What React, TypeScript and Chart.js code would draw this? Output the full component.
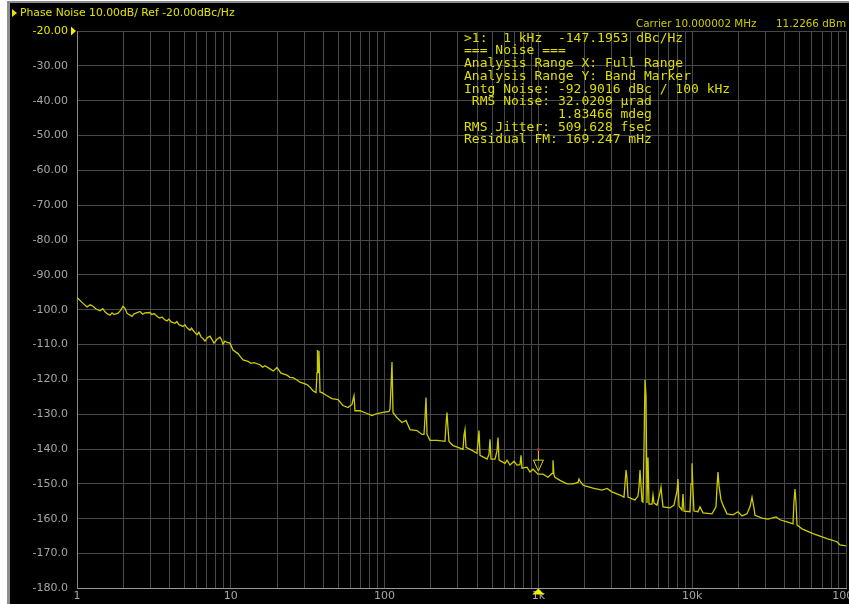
import React, { useEffect, useRef } from "react";
import { Chart, registerables } from "chart.js";

Chart.register(...registerables);

// ---- Data ----
const freqHz: number[] = [
  1, 1.078, 1.162, 1.22, 1.271, 1.33, 1.411, 1.47, 1.521, 1.58, 1.639, 1.69, 1.74, 1.847, 1.92, 1.991,
  2.05, 2.114, 2.2, 2.279, 2.35, 2.419, 2.568, 2.67, 2.768, 2.983, 3.07, 3.168, 3.313, 3.44, 3.57, 3.7,
  3.848, 3.96, 4.086, 4.337, 4.46, 4.605, 4.89, 5.03, 5.191, 5.43, 5.55, 5.679, 5.85, 6.028, 6.21, 6.402,
  6.6, 6.797, 7.05, 7.323, 7.55, 7.777, 8.134, 8.507, 8.7, 8.898, 9.16, 9.448, 9.881, 10.33, 11.14, 11.6,
  12.0, 12.94, 13.5, 14.15, 15.48, 16.1, 16.69, 17.98, 18.9, 19.97, 21.21, 23.2, 24.2, 25.38, 26.8, 28.18,
  31.29, 33.0, 34.23, 35.81, 36.35, 36.6, 36.9, 37.45, 38.02, 39.17, 42.22, 45.5, 49.77, 53.63, 57.81, 61.38,
  62.3, 63.24, 64.19, 69.18, 76.86, 82.82, 89.25, 97.63, 106.8, 108.4, 110.0, 111.7, 113.4, 120.4, 129.8, 137.8,
  146.3, 162.4, 175.1, 180.4, 183.1, 185.9, 188.7, 197.3, 219.1, 247.0, 250.7, 254.5, 258.3, 262.2, 278.4, 300.1,
  323.4, 328.3, 333.3, 338.3, 370.2, 398.9, 404.9, 411.1, 417.3, 463.4, 477.4, 484.6, 491.9, 522.3, 538.2, 546.3,
  554.6, 606.6, 625.1, 653.8, 694.0, 725.9, 759.3, 770.8, 782.4, 843.3, 881.9, 922.3, 994.0, 1071, 1155, 1226,
  1244, 1263, 1282, 1382, 1535, 1679, 1809, 1837, 1865, 1950, 2009, 2265, 2591, 2793, 3010, 3394,
  3603, 3713, 3768, 3825, 4061, 4247, 4442, 4509, 4577, 4646, 4716, 4787, 4860, 4933, 5008, 5083,
  5160, 5238, 5479, 5561, 5645, 5905, 6175, 6269, 6363, 6459, 7173, 7614, 7964, 8084, 8207, 8585,
  8715, 8846, 9676, 9822, 9970, 10120, 10273, 10907, 11239, 11756, 13451, 14279, 14495, 14714, 14937, 15391,
  15859, 16837, 18420, 19854, 21076, 22721, 23764, 24486, 25231, 25612, 28434, 31102, 35068, 37228, 41344, 45230,
  45912, 46605, 47308, 48023, 51761, 61025, 75250, 87420, 91410, 100000,
];

const phaseNoiseDbc: number[] = [
  -96.5, -97.9, -99.2, -98.6, -99.0, -99.8, -100.3, -99.7, -100.6, -101.2, -101.6, -100.9, -101.4, -101.0, -100.2, -99.0,
  -99.6, -101.0, -101.5, -101.9, -101.2, -101.0, -100.5, -101.3, -100.9, -100.8, -101.4, -101.1, -101.9, -102.4, -102.1, -102.8,
  -103.2, -102.7, -103.5, -103.9, -103.4, -104.3, -104.8, -104.3, -105.2, -105.9, -105.3, -105.9, -106.6, -107.2, -106.5, -107.8,
  -108.3, -109.0, -108.0, -107.6, -108.6, -109.6, -108.5, -107.9, -108.6, -109.9, -109.0, -109.4, -109.6, -111.6, -112.6, -113.6,
  -114.4, -114.8, -115.4, -115.2, -115.8, -116.5, -116.1, -117.0, -117.6, -116.6, -118.2, -118.8, -119.4, -119.5, -120.1, -120.8,
  -121.5, -122.4, -123.3, -123.8, -118.1, -111.6, -118.0, -111.8, -123.6, -123.8, -124.7, -125.5, -125.8, -127.5, -128.1, -127.2,
  -125.8, -124.7, -129.0, -129.0, -129.8, -130.4, -129.8, -129.5, -129.2, -128.5, -122.4, -115.0, -129.5, -131.0, -132.4, -131.8,
  -134.4, -134.7, -135.8, -135.8, -131.0, -125.2, -135.8, -137.5, -137.5, -137.8, -133.0, -129.5, -134.0, -137.8, -139.0, -139.5,
  -140.1, -136.0, -134.4, -139.5, -140.4, -141.2, -138.0, -134.7, -141.8, -142.9, -141.5, -137.2, -142.9, -142.9, -140.5, -136.7,
  -143.2, -144.1, -143.2, -144.6, -143.5, -144.6, -144.5, -141.8, -145.5, -145.2, -146.6, -145.8, -147.2, -147.2, -148.1, -147.0,
  -143.2, -147.5, -148.1, -149.0, -150.0, -150.0, -149.6, -148.6, -149.2, -150.3, -150.6, -151.2, -151.8, -151.3, -152.3, -153.2,
  -153.8, -146.0, -148.5, -153.8, -154.3, -154.6, -153.5, -150.9, -146.0, -150.5, -155.0, -155.2, -140.0, -120.1, -124.7, -155.5,
  -142.4, -155.8, -155.8, -153.2, -155.5, -156.1, -152.5, -150.9, -154.0, -156.6, -156.9, -156.1, -152.0, -148.6, -156.4, -157.5,
  -152.9, -157.8, -158.0, -150.0, -144.1, -152.0, -157.8, -158.0, -156.6, -158.3, -158.6, -156.6, -151.0, -146.6, -150.5, -154.6,
  -156.1, -158.6, -158.9, -158.0, -159.2, -158.6, -156.6, -153.8, -157.0, -159.0, -159.8, -160.1, -159.5, -160.3, -160.9, -161.5,
  -155.0, -151.5, -155.5, -161.8, -162.9, -164.3, -165.7, -166.6, -167.5, -167.8,
];

const xMin = 1;
const xMax = 100000;
const yMin = -180;
const yMax = -20;
const yStep = 10;
const refLevel = -20;
const decadeLabels: Record<number, string> = {
  1: "1",
  10: "10",
  100: "100",
  1000: "1k",
  10000: "10k",
  100000: "100k",
};
const mantissas = [1, 2, 3, 4, 5, 6, 7, 8, 9];
const decades = [1, 10, 100, 1000, 10000];

const markerFreq = 1000;
const markerValue = -147.1953;

const headerText = "Phase Noise 10.00dB/ Ref -20.00dBc/Hz";
const carrierText = "Carrier 10.000002 MHz";
const powerText = "11.2266 dBm";
const annotationLines = [
  ">1:  1 kHz  -147.1953 dBc/Hz",
  "=== Noise ===",
  "Analysis Range X: Full Range",
  "Analysis Range Y: Band Marker",
  "Intg Noise: -92.9016 dBc / 100 kHz",
  " RMS Noise: 32.0209 \u00b5rad",
  "            1.83466 mdeg",
  "RMS Jitter: 509.628 fsec",
  "Residual FM: 169.247 mHz",
];

const YELLOW = "#e2e200";
const TRACE = "#cccc00";
const LABEL_GRAY = "#a6a6a6";
const GRID = "#484848";

const overlayPlugin = {
  id: "analyzerOverlay",
  afterDraw(chart: any) {
    const ctx = chart.ctx as CanvasRenderingContext2D;
    const xs = chart.scales.x;
    const ys = chart.scales.y;
    const area = chart.chartArea;
    ctx.save();

    // header marker + text
    ctx.fillStyle = YELLOW;
    ctx.beginPath();
    ctx.moveTo(12, 9);
    ctx.lineTo(12, 17);
    ctx.lineTo(17, 13);
    ctx.closePath();
    ctx.fill();
    ctx.font = "10.8px 'DejaVu Sans'";
    ctx.textBaseline = "middle";
    ctx.textAlign = "left";
    ctx.fillText(headerText, 20, 13);

    // carrier info
    ctx.fillStyle = "#caca00";
    ctx.font = "10.4px 'DejaVu Sans'";
    ctx.fillText(carrierText, 636, 24);
    ctx.fillText(powerText, 776, 24);

    // reference level marker
    const ry = ys.getPixelForValue(refLevel);
    ctx.fillStyle = "#f0f000";
    ctx.beginPath();
    ctx.moveTo(area.left - 6, ry - 4.5);
    ctx.lineTo(area.left - 6, ry + 4.5);
    ctx.lineTo(area.left - 1, ry);
    ctx.closePath();
    ctx.fill();

    // marker on x axis
    const mx = xs.getPixelForValue(markerFreq);
    ctx.beginPath();
    ctx.moveTo(mx, area.bottom);
    ctx.lineTo(mx - 6, area.bottom + 6);
    ctx.lineTo(mx + 6, area.bottom + 6);
    ctx.closePath();
    ctx.fill();

    // trace marker
    const my = ys.getPixelForValue(markerValue);
    ctx.strokeStyle = "#d8d800";
    ctx.lineWidth = 1;
    ctx.beginPath();
    ctx.moveTo(mx, my - 24);
    ctx.lineTo(mx, my - 14);
    ctx.moveTo(mx - 5, my - 14);
    ctx.lineTo(mx + 5, my - 14);
    ctx.lineTo(mx, my - 3);
    ctx.closePath();
    ctx.stroke();
    ctx.fillStyle = "#c03030";
    ctx.fillRect(mx - 1, my - 26, 2, 3);

    // annotation block
    ctx.fillStyle = "#dede00";
    ctx.font = "13px 'DejaVu Sans Mono'";
    ctx.textBaseline = "middle";
    annotationLines.forEach((line, i) => {
      ctx.fillText(line, 464, 38.3 + i * 12.72);
    });

    ctx.restore();
  },
};

export default function App() {
  const canvasRef = useRef<HTMLCanvasElement | null>(null);

  useEffect(() => {
    const canvas = canvasRef.current;
    if (!canvas) return;
    const points = freqHz.map((f, i) => ({ x: f, y: phaseNoiseDbc[i] }));
    const tickValues: number[] = [];
    decades.forEach((d) => mantissas.forEach((m) => tickValues.push(m * d)));
    tickValues.push(xMax);

    const chart = new Chart(canvas, {
      type: "line",
      data: {
        datasets: [
          {
            data: points,
            borderColor: TRACE,
            borderWidth: 1.3,
            pointRadius: 0,
            tension: 0,
            fill: false,
          },
        ],
      },
      options: {
        animation: false,
        responsive: false,
        maintainAspectRatio: false,
        devicePixelRatio: 1,
        layout: { padding: { left: 0, top: 31, right: 34, bottom: 0 } },
        plugins: {
          legend: { display: false },
          tooltip: { enabled: false },
        },
        scales: {
          x: {
            type: "logarithmic",
            min: xMin,
            max: xMax,
            afterBuildTicks: (s: any) => {
              s.ticks = tickValues.map((v) => ({ value: v }));
            },
            afterFit: (s: any) => {
              s.height = 12;
            },
            ticks: {
              autoSkip: false,
              maxRotation: 0,
              minRotation: 0,
              padding: 1,
              color: LABEL_GRAY,
              font: { family: "'DejaVu Sans'", size: 11 },
              callback: (v: any) => decadeLabels[Number(v)] ?? "",
            },
            grid: { color: GRID, drawTicks: false, lineWidth: 1 },
            border: { color: "#9a9a9a", width: 1 },
          },
          y: {
            type: "linear",
            min: yMin,
            max: yMax,
            afterFit: (s: any) => {
              s.width = 77;
            },
            ticks: {
              stepSize: yStep,
              padding: 9,
              color: (c: any) => (c.tick && c.tick.value === refLevel ? "#e6e600" : LABEL_GRAY),
              font: { family: "'DejaVu Sans'", size: 11 },
              callback: (v: any) => (Number(v) >= -90 ? Number(v).toFixed(2) : Number(v).toFixed(1)),
            },
            grid: { color: GRID, drawTicks: false, lineWidth: 1 },
            border: { color: "#8a8a8a", width: 1 },
          },
        },
      },
      plugins: [overlayPlugin],
    } as any);

    return () => chart.destroy();
  }, []);

  return (
    <div
      style={{
        position: "fixed",
        left: 0,
        top: 0,
        width: 849,
        height: 604,
        overflow: "hidden",
        background: "#ffffff",
      }}
    >
      <div
        style={{
          position: "absolute",
          left: 7,
          top: 1,
          width: 900,
          height: 700,
          borderLeft: "3px solid #8c8c8c",
          borderTop: "2px solid #8c8c8c",
          background: "#000000",
        }}
      />
      <canvas
        ref={canvasRef}
        width={880}
        height={604}
        style={{ position: "absolute", left: 0, top: 0, width: 880, height: 604 }}
      />
    </div>
  );
}
